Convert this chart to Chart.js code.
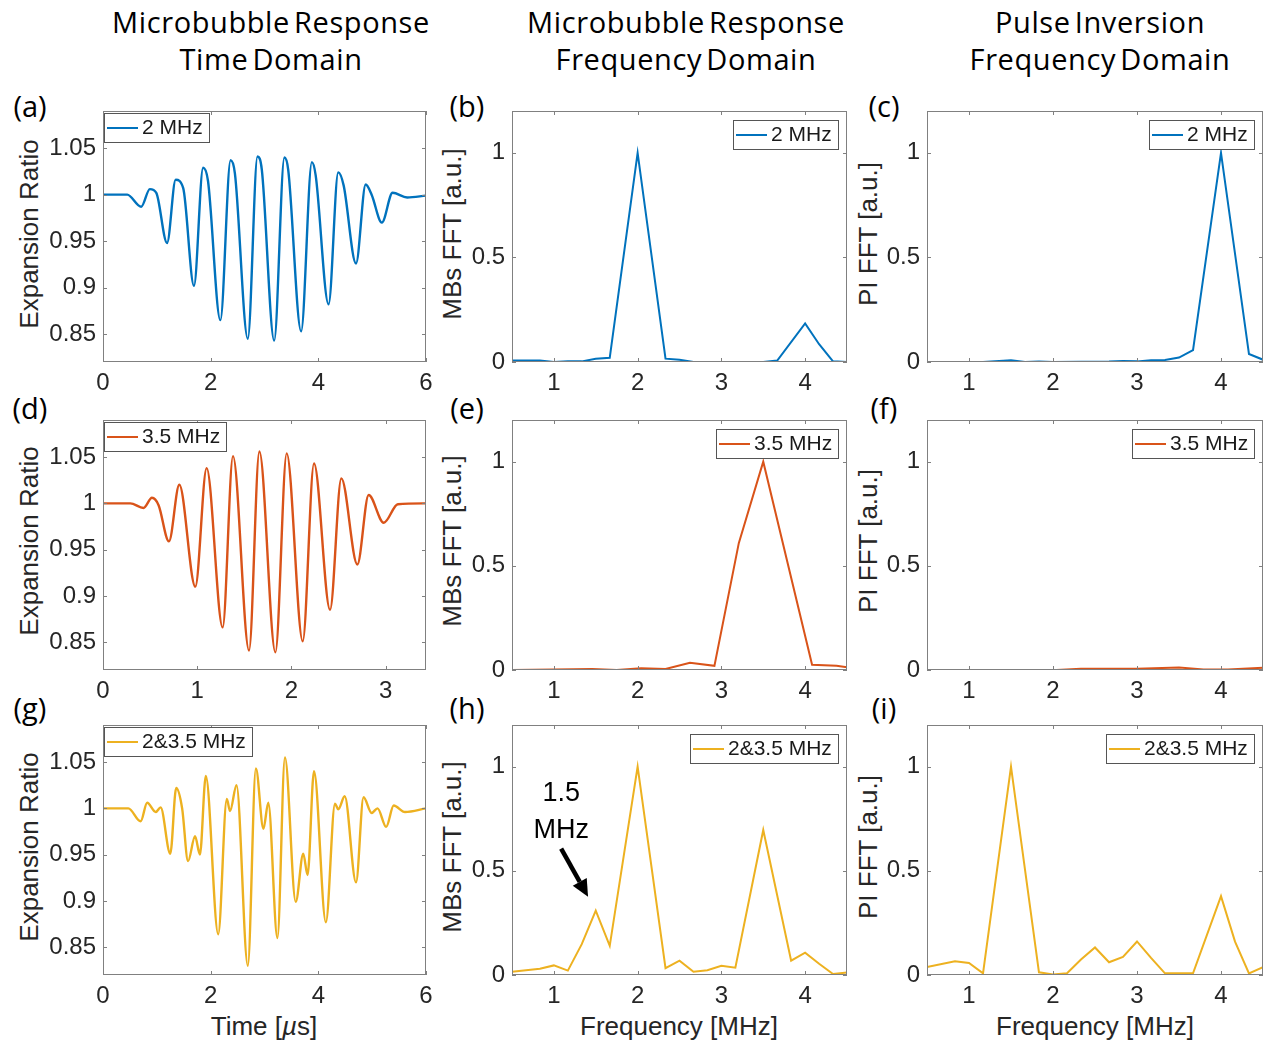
<!DOCTYPE html>
<html>
<head>
<meta charset="utf-8">
<script src="https://cdn.jsdelivr.net/npm/chart.js@4.4.1/dist/chart.umd.min.js"></script>
<style>
  html, body { margin: 0; padding: 0; background: #fff; overflow: hidden; }
  body { width: 1265px; height: 1041px; position: relative; }
  canvas { position: absolute; }
  .lbl { position: absolute; transform: translate(-50%, -50%); white-space: nowrap; line-height: 1; color: #000; }
  .head { font-family: "Open Sans", sans-serif; font-size: 29px; letter-spacing: 0.6px; word-spacing: -4px; }
  .tag { font-family: "Open Sans", sans-serif; font-size: 29px; }
  .axt { font-family: "Liberation Sans", Arial, sans-serif; font-size: 26px; color: #262626; }
  .rot { transform: translate(-50%, -50%) rotate(-90deg); }
</style>
</head>
<body>

<div class="lbl head" style="left:271px; top:21px">Microbubble Response</div>
<div class="lbl head" style="left:271px; top:58px">Time Domain</div>
<div class="lbl head" style="left:686px; top:21px">Microbubble Response</div>
<div class="lbl head" style="left:686px; top:58px">Frequency Domain</div>
<div class="lbl head" style="left:1100px; top:21px">Pulse Inversion</div>
<div class="lbl head" style="left:1100px; top:58px">Frequency Domain</div>

<div class="lbl tag" style="left:30px; top:105px">(a)</div>
<div class="lbl tag" style="left:467px; top:105px">(b)</div>
<div class="lbl tag" style="left:884px; top:105px">(c)</div>
<div class="lbl tag" style="left:30px; top:407px">(d)</div>
<div class="lbl tag" style="left:467px; top:407px">(e)</div>
<div class="lbl tag" style="left:884px; top:407px">(f)</div>
<div class="lbl tag" style="left:30px; top:707px">(g)</div>
<div class="lbl tag" style="left:467px; top:707px">(h)</div>
<div class="lbl tag" style="left:884px; top:707px">(i)</div>

<div class="lbl axt rot" style="left:29px; top:234px">Expansion Ratio</div>
<div class="lbl axt rot" style="left:29px; top:541px">Expansion Ratio</div>
<div class="lbl axt rot" style="left:29px; top:847px">Expansion Ratio</div>
<div class="lbl axt rot" style="left:452px; top:234px">MBs FFT [a.u.]</div>
<div class="lbl axt rot" style="left:452px; top:541px">MBs FFT [a.u.]</div>
<div class="lbl axt rot" style="left:452px; top:847px">MBs FFT [a.u.]</div>
<div class="lbl axt rot" style="left:868px; top:234px">PI FFT [a.u.]</div>
<div class="lbl axt rot" style="left:868px; top:541px">PI FFT [a.u.]</div>
<div class="lbl axt rot" style="left:868px; top:847px">PI FFT [a.u.]</div>

<div class="lbl axt" style="left:264px; top:1026px">Time [<i>µ</i>s]</div>
<div class="lbl axt" style="left:679px; top:1026px">Frequency [MHz]</div>
<div class="lbl axt" style="left:1095px; top:1026px">Frequency [MHz]</div>

<script>
// ---- time domain: expansion ratio, peaks / troughs of each response ----
const timeA  = [0, 0.45, 0.71, 0.87, 0.99, 1.19, 1.35, 1.49, 1.69, 1.86, 1.95, 2.18, 2.37, 2.45, 2.69, 2.87, 2.95, 3.18, 3.37, 3.44, 3.68, 3.88, 3.95, 4.19, 4.37, 4.47, 4.70, 4.88, 4.99, 5.18, 5.38, 5.65, 6.0];
const ratioA = [1.0, 1.0, 0.987, 1.006, 1.002, 0.948, 1.016, 1.007, 0.902, 1.029, 1.015, 0.865, 1.037, 1.023, 0.845, 1.041, 1.027, 0.843, 1.040, 1.027, 0.853, 1.035, 1.021, 0.882, 1.024, 1.010, 0.926, 1.011, 1.000, 0.970, 1.002, 0.997, 0.999];

const timeD  = [0, 0.29, 0.43, 0.52, 0.59, 0.70, 0.81, 0.98, 1.10, 1.27, 1.38, 1.55, 1.66, 1.83, 1.95, 2.12, 2.24, 2.41, 2.53, 2.70, 2.82, 2.98, 3.13, 3.43];
const ratioD = [1.0, 1.0, 0.995, 1.006, 0.998, 0.959, 1.020, 0.910, 1.038, 0.866, 1.051, 0.841, 1.056, 0.839, 1.054, 0.851, 1.043, 0.885, 1.027, 0.934, 1.009, 0.979, 0.999, 1.0];

const timeG  = [0, 0.47, 0.70, 0.82, 0.98, 1.07, 1.25, 1.36, 1.47, 1.58, 1.71, 1.80, 1.91, 2.14, 2.30, 2.36, 2.48, 2.69, 2.84, 2.98, 3.07, 3.24, 3.38, 3.58, 3.72, 3.80, 3.92, 4.14, 4.31, 4.37, 4.49, 4.70, 4.84, 4.99, 5.10, 5.26, 5.40, 5.61, 6.0];
const ratioG = [1.0, 1.0, 0.986, 1.006, 0.996, 1.001, 0.951, 1.022, 1.000, 0.943, 0.970, 0.950, 1.035, 0.864, 1.010, 0.997, 1.025, 0.830, 1.043, 0.978, 1.006, 0.860, 1.055, 0.899, 0.951, 0.928, 1.040, 0.877, 1.005, 0.999, 1.013, 0.920, 1.012, 0.995, 1.000, 0.980, 1.003, 0.996, 1.0];

// ---- frequency domain: normalised FFT of the MB response ----
const freqB = [0.5, 0.833, 1.0, 1.167, 1.333, 1.5, 1.667, 2.0, 2.333, 2.5, 2.667, 3.0, 3.333, 3.5, 3.667, 4.0, 4.167, 4.333, 4.5];
const fftB  = [0.007, 0.007, 0, 0.003, 0.003, 0.016, 0.02, 1.0, 0.016, 0.011, 0, 0, 0, 0, 0.007, 0.184, 0.085, 0.003, 0];

const freqE = [0.5, 1.0, 1.458, 1.75, 2.042, 2.333, 2.625, 2.917, 3.208, 3.5, 4.083, 4.375, 4.5];
const fftE  = [0, 0.003, 0.005, 0, 0.008, 0.005, 0.035, 0.02, 0.609, 1.0, 0.025, 0.02, 0.013];

const freqH = [0.5, 0.833, 1.0, 1.167, 1.333, 1.5, 1.667, 2.0, 2.333, 2.5, 2.667, 2.833, 3.0, 3.167, 3.5, 3.833, 4.0, 4.167, 4.333, 4.5];
const fftH  = [0.016, 0.030, 0.046, 0.021, 0.148, 0.309, 0.14, 1.0, 0.033, 0.069, 0.016, 0.023, 0.044, 0.035, 0.696, 0.069, 0.107, 0.054, 0.005, 0.012];

// ---- pulse inversion FFT ----
const freqC = [0.5, 1.167, 1.5, 1.667, 1.833, 2.0, 2.667, 2.833, 3.0, 3.167, 3.333, 3.5, 3.667, 4.0, 4.333, 4.5];
const piC   = [0, 0, 0.008, 0, 0.002, 0, 0.002, 0.005, 0.003, 0.008, 0.01, 0.021, 0.057, 1.0, 0.038, 0.011];

const freqF = [0.5, 2.042, 2.333, 3.0, 3.5, 3.792, 4.083, 4.5];
const piF   = [0, 0, 0.006, 0.006, 0.012, 0.003, 0.003, 0.011];

const freqI = [0.5, 0.833, 1.0, 1.167, 1.5, 1.833, 2.0, 2.167, 2.333, 2.5, 2.667, 2.833, 3.0, 3.167, 3.333, 3.667, 4.0, 4.167, 4.333, 4.5];
const piI   = [0.038, 0.066, 0.058, 0.008, 1.0, 0.013, 0.003, 0.008, 0.074, 0.132, 0.061, 0.087, 0.161, 0.082, 0.008, 0.008, 0.378, 0.160, 0.008, 0.038];

// ---- tick positions ----
const timeTicks6 = [0, 2, 4, 6];
const timeTicks35 = [0, 1, 2, 3];
const freqTicks = [1, 2, 3, 4];
const ratioTicks = [0.85, 0.9, 0.95, 1, 1.05];
const fftTicks = [0, 0.5, 1];

const seriesNames = ["2 MHz", "3.5 MHz", "2&3.5 MHz"];
const blue = "#0072BD", orange = "#D95319", yellow = "#EDB120";

const tickFont = { family: '"Liberation Sans", Arial, sans-serif', size: 24 };
const ink = "#262626";

// box + inward tick marks on all four sides, matlab style
const frame = {
    id: "frame",
    afterDatasetsDraw(chart) {
        const { ctx, chartArea: a, scales } = chart;
        ctx.save();
        ctx.strokeStyle = "#808080";
        ctx.lineWidth = 1;
        ctx.strokeRect(a.left + 0.5, a.top + 0.5, a.right - a.left - 1, a.bottom - a.top - 1);
        ctx.beginPath();
        scales.x.ticks.forEach(t => {
            const px = Math.round(scales.x.getPixelForValue(t.value)) + 0.5;
            ctx.moveTo(px, a.bottom); ctx.lineTo(px, a.bottom - 4);
            ctx.moveTo(px, a.top); ctx.lineTo(px, a.top + 4);
        });
        scales.y.ticks.forEach(t => {
            const py = Math.round(scales.y.getPixelForValue(t.value)) + 0.5;
            ctx.moveTo(a.left, py); ctx.lineTo(a.left + 4, py);
            ctx.moveTo(a.right, py); ctx.lineTo(a.right - 4, py);
        });
        ctx.stroke();
        ctx.restore();
    }
};

// legend drawn inside the axes with a framed box
const boxLegend = {
    id: "boxLegend",
    afterDraw(chart, args, opts) {
        const ds = chart.data.datasets[0];
        const { ctx, chartArea: a } = chart;
        ctx.save();
        ctx.font = '21px "Liberation Sans", Arial, sans-serif';
        const tw = ctx.measureText(ds.label).width;
        const w = Math.round(3 + 31 + 4 + tw + 6), h = 29;
        const x = opts.corner === "nw" ? a.left + 1 : a.right - 9 - w;
        const y = opts.corner === "nw" ? a.top + 2 : a.top + 9;
        ctx.fillStyle = "#fff";
        ctx.fillRect(x, y, w, h);
        ctx.strokeStyle = "#555";
        ctx.lineWidth = 1;
        ctx.strokeRect(x + 0.5, y + 0.5, w, h);
        ctx.strokeStyle = ds.borderColor;
        ctx.lineWidth = 2;
        ctx.beginPath();
        ctx.moveTo(x + 3, y + h / 2 + 0.5);
        ctx.lineTo(x + 34, y + h / 2 + 0.5);
        ctx.stroke();
        ctx.fillStyle = "#1a1a1a";
        ctx.textBaseline = "middle";
        ctx.fillText(ds.label, x + 38, y + h / 2 + 1);
        ctx.restore();
    }
};

// "1.5 MHz" note with an arrow pointing at the subharmonic bump
const callout = {
    id: "callout",
    afterDatasetsDraw(chart, args, o) {
        if (!o.lines) return;
        const { ctx, scales: { x, y } } = chart;
        ctx.save();
        ctx.fillStyle = "#000";
        ctx.font = '27px "Liberation Sans", Arial, sans-serif';
        ctx.textAlign = "center";
        ctx.textBaseline = "middle";
        o.lines.forEach(l => ctx.fillText(l.text, x.getPixelForValue(l.x), y.getPixelForValue(l.y)));

        const x0 = x.getPixelForValue(o.arrow[0]), y0 = y.getPixelForValue(o.arrow[1]);
        const x1 = x.getPixelForValue(o.arrow[2]), y1 = y.getPixelForValue(o.arrow[3]);
        const ang = Math.atan2(y1 - y0, x1 - x0);
        const head = 17, half = 8;
        const bx = x1 - head * Math.cos(ang), by = y1 - head * Math.sin(ang);
        ctx.strokeStyle = "#000";
        ctx.lineWidth = 4.5;
        ctx.beginPath();
        ctx.moveTo(x0, y0);
        ctx.lineTo(bx, by);
        ctx.stroke();
        ctx.beginPath();
        ctx.moveTo(x1, y1);
        ctx.lineTo(bx + half * Math.sin(ang), by - half * Math.cos(ang));
        ctx.lineTo(bx - half * Math.sin(ang), by + half * Math.cos(ang));
        ctx.closePath();
        ctx.fill();
        ctx.restore();
    }
};

const rowTB = [[111, 356], [420, 664], [725, 969]];
const colLR = [[103, 426], [512, 847], [927, 1263]];

const timeAxis6 = { min: 0, max: 6, ticks: timeTicks6 };
const timeAxis35 = { min: 0, max: 3.4286, ticks: timeTicks35 };
const freqAxis = { min: 0.5, max: 4.5, ticks: freqTicks };
const ratioAxis = { min: 0.82, max: 1.09, ticks: ratioTicks };
const fftAxis = { min: 0, max: 1.2, ticks: fftTicks };

const panels = [
    { row: 0, col: 0, xs: timeA, ys: ratioA, color: blue, name: seriesNames[0], x: timeAxis6, y: ratioAxis, corner: "nw", smooth: true },
    { row: 0, col: 1, xs: freqB, ys: fftB, color: blue, name: seriesNames[0], x: freqAxis, y: fftAxis, corner: "ne" },
    { row: 0, col: 2, xs: freqC, ys: piC, color: blue, name: seriesNames[0], x: freqAxis, y: fftAxis, corner: "ne" },
    { row: 1, col: 0, xs: timeD, ys: ratioD, color: orange, name: seriesNames[1], x: timeAxis35, y: ratioAxis, corner: "nw", smooth: true },
    { row: 1, col: 1, xs: freqE, ys: fftE, color: orange, name: seriesNames[1], x: freqAxis, y: fftAxis, corner: "ne" },
    { row: 1, col: 2, xs: freqF, ys: piF, color: orange, name: seriesNames[1], x: freqAxis, y: fftAxis, corner: "ne" },
    { row: 2, col: 0, xs: timeG, ys: ratioG, color: yellow, name: seriesNames[2], x: timeAxis6, y: ratioAxis, corner: "nw", smooth: true },
    { row: 2, col: 1, xs: freqH, ys: fftH, color: yellow, name: seriesNames[2], x: freqAxis, y: fftAxis, corner: "ne",
      note: { lines: [{ text: "1.5", x: 1.087, y: 0.87 }, { text: "MHz", x: 1.087, y: 0.694 }], arrow: [1.087, 0.607, 1.408, 0.376] } },
    { row: 2, col: 2, xs: freqI, ys: piI, color: yellow, name: seriesNames[2], x: freqAxis, y: fftAxis, corner: "ne" },
];

const fmt = v => String(Math.round(v * 100) / 100);
const fixedTicks = vals => scale => { scale.ticks = vals.map(value => ({ value })); };
// pin the axis box size and drop the label overhang padding chart.js adds
const fixSize = (key, size) => scale => {
    scale[key] = size;
    scale.paddingTop = scale.paddingBottom = scale.paddingLeft = scale.paddingRight = 0;
};

panels.forEach(p => {
    const [L, R] = colLR[p.col], [T, B] = rowTB[p.row];
    const padL = 60, padT = 6, padR = 14, padB = 40;
    const canvas = document.createElement("canvas");
    canvas.width = R - L + padL + padR;
    canvas.height = B - T + padT + padB;
    canvas.style.left = (L - padL) + "px";
    canvas.style.top = (T - padT) + "px";
    document.body.appendChild(canvas);

    new Chart(canvas, {
        type: "line",
        data: {
            datasets: [{
                label: p.name,
                data: p.xs.map((x, i) => ({ x, y: p.ys[i] })),
                borderColor: p.color,
                borderWidth: p.smooth ? 2.4 : 2,
                pointRadius: 0,
                fill: false,
                tension: 0,
                cubicInterpolationMode: p.smooth ? "monotone" : "default",
            }],
        },
        options: {
            responsive: false,
            animation: false,
            devicePixelRatio: 1,
            layout: { autoPadding: false, padding: { top: padT, right: padR, left: 0, bottom: 0 } },
            plugins: {
                legend: { display: false },
                tooltip: { enabled: false },
                boxLegend: { corner: p.corner },
                callout: p.note || {},
            },
            scales: {
                x: {
                    type: "linear",
                    min: p.x.min, max: p.x.max,
                    grid: { display: false, drawTicks: false },
                    border: { display: false },
                    ticks: { autoSkip: false, maxRotation: 0, padding: 7, font: tickFont, color: ink, callback: fmt },
                    afterBuildTicks: fixedTicks(p.x.ticks),
                    afterFit: fixSize("height", padB - 6),
                },
                y: {
                    min: p.y.min, max: p.y.max,
                    grid: { display: false, drawTicks: false },
                    border: { display: false },
                    ticks: { autoSkip: false, padding: 7, font: tickFont, color: ink, callback: fmt },
                    afterBuildTicks: fixedTicks(p.y.ticks),
                    afterFit: fixSize("width", padL),
                },
            },
        },
        plugins: [frame, boxLegend, callout],
    });
});
</script>
</body>
</html>
